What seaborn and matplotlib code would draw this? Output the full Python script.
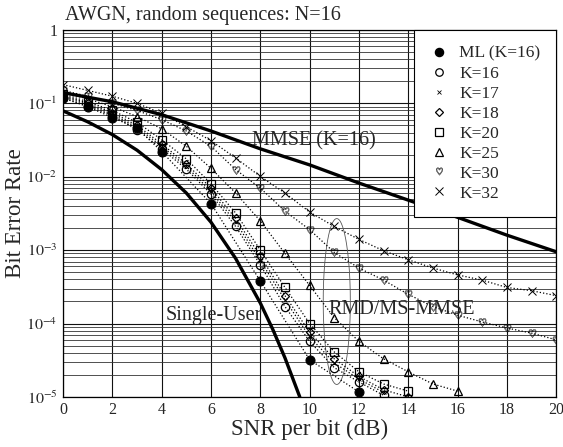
import numpy as np
import pandas as pd
import matplotlib
matplotlib.use("Agg")
import matplotlib.pyplot as plt
from matplotlib.lines import Line2D
import seaborn as sns

# ---- data -------------------------------------------------------------
snr_ml = [0, 1, 2, 3, 4, 6, 8, 10, 12]
ber_ml = [0.118, 0.09, 0.064, 0.046, 0.022, 0.0043, 3.8e-4, 3.2e-5, 1.17e-5]

snr_k16 = list(range(0, 14))
ber_k16 = [0.12, 0.092, 0.068, 0.044, 0.024, 0.0127, 0.0058, 0.0021, 6.3e-4,
           1.7e-4, 5.7e-5, 2.5e-5, 1.6e-5, 1.05e-5]
snr_k17 = list(range(0, 14))
ber_k17 = [0.125, 0.096, 0.071, 0.047, 0.026, 0.0138, 0.0063, 0.0024, 7.2e-4,
           2.1e-4, 6.6e-5, 2.9e-5, 1.75e-5, 1.15e-5]
snr_k18 = list(range(0, 15))
ber_k18 = [0.13, 0.1, 0.075, 0.05, 0.028, 0.015, 0.007, 0.0027, 8.3e-4,
           2.4e-4, 7.6e-5, 3.3e-5, 1.9e-5, 1.25e-5, 1.0e-5]
snr_k20 = list(range(0, 15))
ber_k20 = [0.135, 0.105, 0.08, 0.055, 0.032, 0.0175, 0.008, 0.0032, 1.0e-3,
           3.1e-4, 1.0e-4, 4.1e-5, 2.2e-5, 1.5e-5, 1.2e-5]
snr_k25 = list(range(0, 17))
ber_k25 = [0.14, 0.115, 0.09, 0.066, 0.045, 0.026, 0.013, 0.006, 0.0025,
           9e-4, 3.3e-4, 1.2e-4, 5.7e-5, 3.3e-5, 2.2e-5, 1.5e-5, 1.2e-5]
snr_k30 = list(range(0, 21))
ber_k30 = [0.15, 0.125, 0.1, 0.08, 0.06, 0.042, 0.026, 0.0125, 0.007, 0.0034,
           0.0019, 9.3e-4, 5.7e-4, 3.9e-4, 2.5e-4, 1.7e-4, 1.3e-4, 1.05e-4,
           8.7e-5, 7.4e-5, 6e-5]
snr_k32 = list(range(0, 21))
ber_k32 = [0.18, 0.15, 0.125, 0.1, 0.073, 0.048, 0.031, 0.018, 0.0101, 0.006,
           0.0033, 0.0021, 0.0014, 9.8e-4, 7.4e-4, 5.7e-4, 4.6e-4, 3.9e-4,
           3.1e-4, 2.8e-4, 2.4e-4]

snr_mmse = [0, 2, 4, 6, 8, 10, 12, 14, 16, 18, 20]
ber_mmse = [0.14, 0.105, 0.07, 0.042, 0.024, 0.0145, 0.0082, 0.0048, 0.0028,
            0.0016, 0.00095]

snr_su = [0, 1, 2, 3, 4, 5, 6, 7, 8, 8.5, 9, 9.6]
ber_su = [0.079, 0.056, 0.0375, 0.023, 0.0125, 0.006, 0.0024, 7.7e-4, 1.9e-4,
          8.4e-5, 3.4e-5, 1.0e-5]

series_labels = ["ML (K=16)", "K=16", "K=17", "K=18", "K=20", "K=25", "K=30", "K=32"]

# ---- style ------------------------------------------------------------
sns.set_style("white")
plt.rcParams["font.family"] = ["Liberation Serif", "DejaVu Serif"]
plt.rcParams["mathtext.fontset"] = "stix"

fig = plt.figure(figsize=(5.63, 4.47), dpi=100)
ax = fig.add_axes([0.112, 0.112, 0.876, 0.821])

styles = {
    "ML (K=16)": dict(marker="o", ms=6.5, mfc="black", mec="black"),
    "K=16": dict(marker="o", ms=6.0, mfc="none", mec="black", mew=0.9),
    "K=17": dict(marker="x", ms=3.5, mfc="none", mec="black", mew=0.6),
    "K=18": dict(marker="D", ms=4.5, mfc="none", mec="black", mew=0.9),
    "K=20": dict(marker="s", ms=6.0, mfc="none", mec="black", mew=0.9),
    "K=25": dict(marker="^", ms=6.0, mfc="none", mec="black", mew=0.9),
    "K=30": dict(marker="$\\heartsuit$", ms=6.0, mfc="none", mec="black", mew=0.3),
    "K=32": dict(marker="x", ms=6.0, mfc="none", mec="black", mew=0.7),
}

data = {
    "ML (K=16)": (snr_ml, ber_ml),
    "K=16": (snr_k16, ber_k16),
    "K=17": (snr_k17, ber_k17),
    "K=18": (snr_k18, ber_k18),
    "K=20": (snr_k20, ber_k20),
    "K=25": (snr_k25, ber_k25),
    "K=30": (snr_k30, ber_k30),
    "K=32": (snr_k32, ber_k32),
}

for name in series_labels[::-1]:
    x, y = data[name]
    df = pd.DataFrame({"snr": x, "ber": y})
    sns.lineplot(data=df, x="snr", y="ber", ax=ax, color="black",
                 linestyle=":", linewidth=0.9, legend=False, zorder=3,
                 **styles[name])

# thick reference curves
sns.lineplot(x=snr_mmse, y=ber_mmse, ax=ax, color="black", linewidth=2.4,
             legend=False, zorder=4)
sns.lineplot(x=snr_su, y=ber_su, ax=ax, color="black", linewidth=2.4,
             legend=False, zorder=4)

ax.set_yscale("log")
ax.set_xlim(0, 20)
ax.set_ylim(1e-5, 1)

# ellipse around the RMD/MS-MMSE curves at 11 dB
t = np.linspace(0, 2 * np.pi, 200)
ex = 11.1 + 0.55 * np.cos(t)
ey = 10 ** (-3.7 + 1.13 * np.sin(t))
ax.plot(ex, ey, color="#555555", linewidth=0.6, zorder=2)

# grid
ax.set_xticks(np.arange(0, 21, 2))
ax.set_yticks([1e-5, 1e-4, 1e-3, 1e-2, 1e-1, 1])
ax.set_yticklabels(["$10^{-5}$", "$10^{-4}$", "$10^{-3}$", "$10^{-2}$",
                    "$10^{-1}$", "1"])
ax.grid(True, which="major", color="#111111", linewidth=0.8, zorder=0)
ax.grid(True, which="minor", axis="y", color="#333333", linewidth=0.6, zorder=0)
ax.set_axisbelow(True)
ax.tick_params(axis="both", which="both", length=0, labelsize=11.5, pad=4)
for sp in ax.spines.values():
    sp.set_color("black")
    sp.set_linewidth(0.9)

ax.set_xlabel("SNR per bit (dB)", fontsize=16.5, labelpad=0)
ax.set_ylabel("Bit Error Rate", fontsize=16.5, labelpad=0)
fig.text(0.115, 0.965, "AWGN, random sequences: N=16", fontsize=14.5,
         ha="left", va="center")

ax.text(7.65, 0.031, "MMSE (K=16)", fontsize=14.5, ha="left", va="center", zorder=5)
ax.text(4.15, 1.3e-4, "Single-User", fontsize=14.5, ha="left", va="center", zorder=5)
ax.text(10.75, 1.55e-4, "RMD/MS-MMSE", fontsize=14.5, ha="left", va="center", zorder=5)

# legend (markers only)
handles = []
for name in series_labels:
    st = dict(styles[name])
    st["ms"] = st["ms"] * 0.9
    handles.append(Line2D([], [], color="black", linestyle="none", **st))
leg = ax.legend(handles, series_labels, loc="upper right", fontsize=12.5,
                frameon=True, fancybox=False, framealpha=1, edgecolor="black",
                borderaxespad=0, handletextpad=0.7, labelspacing=0.22,
                borderpad=0.9, handlelength=1.0)
leg.get_frame().set_linewidth(0.8)
leg.set_zorder(10)

fig.savefig("out.png", dpi=100)
